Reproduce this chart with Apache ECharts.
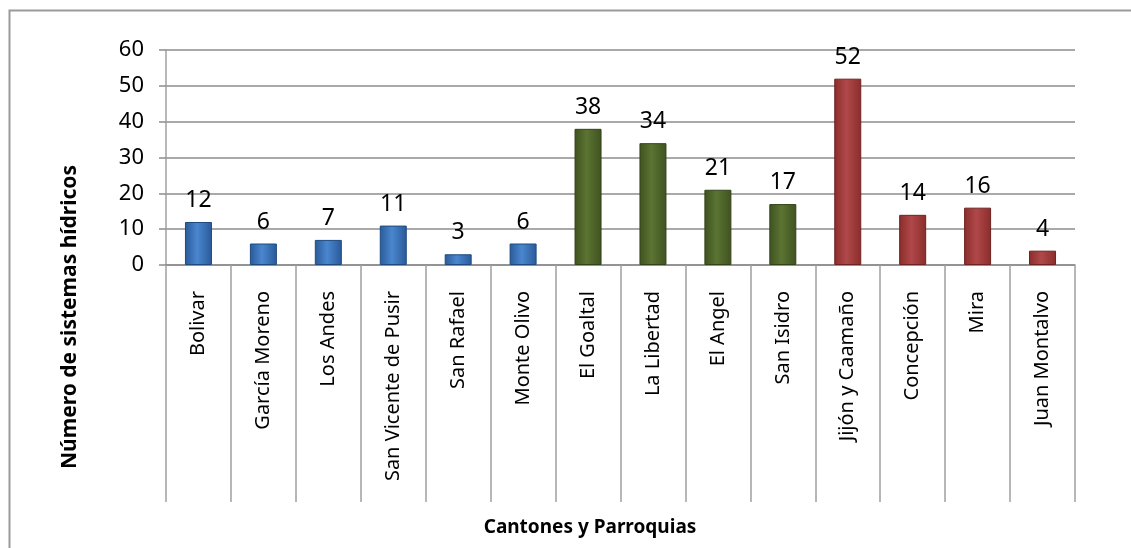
<!DOCTYPE html>
<html>
<head>
<meta charset="utf-8">
<script src="https://cdn.jsdelivr.net/npm/echarts@6/dist/echarts.min.js"></script>
<style>
  html, body { margin: 0; padding: 0; background: #fff; }
  #chart { width: 1131px; height: 548px; }
</style>
</head>
<body>
<div id="chart"></div>
<script>
// datos
var categorias = ['Bolivar', 'García Moreno', 'Los Andes', 'San Vicente de Pusir', 'San Rafael', 'Monte Olivo',
  'El Goaltal', 'La Libertad', 'El Angel', 'San Isidro', 'Jijón y Caamaño', 'Concepción', 'Mira', 'Juan Montalvo'];
var sistemas = [12, 6, 7, 11, 3, 6, 38, 34, 21, 17, 52, 14, 16, 4];
var canton = ['bolivar', 'bolivar', 'bolivar', 'bolivar', 'bolivar', 'bolivar',
  'espejo', 'espejo', 'espejo', 'espejo', 'mira', 'mira', 'mira', 'mira'];
var ejeY = [0, 10, 20, 30, 40, 50, 60];

var colores = {
  bolivar: ['#2a5a98', '#4a86cf', '#2a5a98', '#1f4a80'],
  espejo: ['#3f5220', '#5b7432', '#3f5220', '#33441a'],
  mira: ['#8a2d2b', '#b0484a', '#8a2d2b', '#6e2322']
};

function relleno(c) {
  return new echarts.graphic.LinearGradient(0, 0, 1, 0, [
    { offset: 0, color: c[0] },
    { offset: 0.45, color: c[1] },
    { offset: 1, color: c[2] }
  ]);
}

var datos = sistemas.map(function (v, i) {
  var c = colores[canton[i]];
  return { value: v, itemStyle: { color: relleno(c), borderColor: c[3], borderWidth: 1 } };
});

var chart = echarts.init(document.getElementById('chart'));
var fuente = 'Noto Sans';

chart.setOption({
  animation: false,
  grid: { left: 166, right: 56, top: 50, bottom: 283 },
  xAxis: {
    type: 'category',
    data: categorias,
    axisLine: { show: true, lineStyle: { color: '#8c8c8c', width: 1.5 } },
    axisTick: { show: true, interval: 0, length: 237, lineStyle: { color: '#a0a0a0', width: 1.5 } },
    axisLabel: { interval: 0, rotate: 90, margin: 26, color: '#000', fontFamily: fuente, fontSize: 20 }
  },
  yAxis: {
    type: 'value',
    min: ejeY[0],
    max: ejeY[ejeY.length - 1],
    interval: 10,
    axisLine: { show: true, lineStyle: { color: '#a0a0a0', width: 1.5 } },
    axisTick: { show: true, length: 7, lineStyle: { color: '#8c8c8c', width: 1.5 } },
    splitLine: { show: true, lineStyle: { color: '#8c8c8c', width: 1.5 } },
    axisLabel: { margin: 22, color: '#000', fontFamily: fuente, fontSize: 22 }
  },
  series: [{
    type: 'bar',
    data: datos,
    barWidth: 27,
    label: { show: true, position: 'top', distance: 10, color: '#000', fontFamily: fuente, fontSize: 23 }
  }],
  graphic: [
    {
      type: 'rect',
      shape: { x: 9.5, y: 10.5, width: 1200, height: 600 },
      style: { fill: 'none', stroke: '#9a9a9a', lineWidth: 2 },
      silent: true
    },
    {
      type: 'text',
      x: 70, y: 317,
      rotation: Math.PI / 2,
      style: { text: 'Número de sistemas hídricos', font: 'bold 21px ' + fuente, fill: '#000', align: 'center', verticalAlign: 'middle' }
    },
    {
      type: 'text',
      x: 590, y: 528,
      style: { text: 'Cantones y Parroquias', font: 'bold 19px ' + fuente, fill: '#000', align: 'center', verticalAlign: 'middle' }
    }
  ]
});
</script>
</body>
</html>
